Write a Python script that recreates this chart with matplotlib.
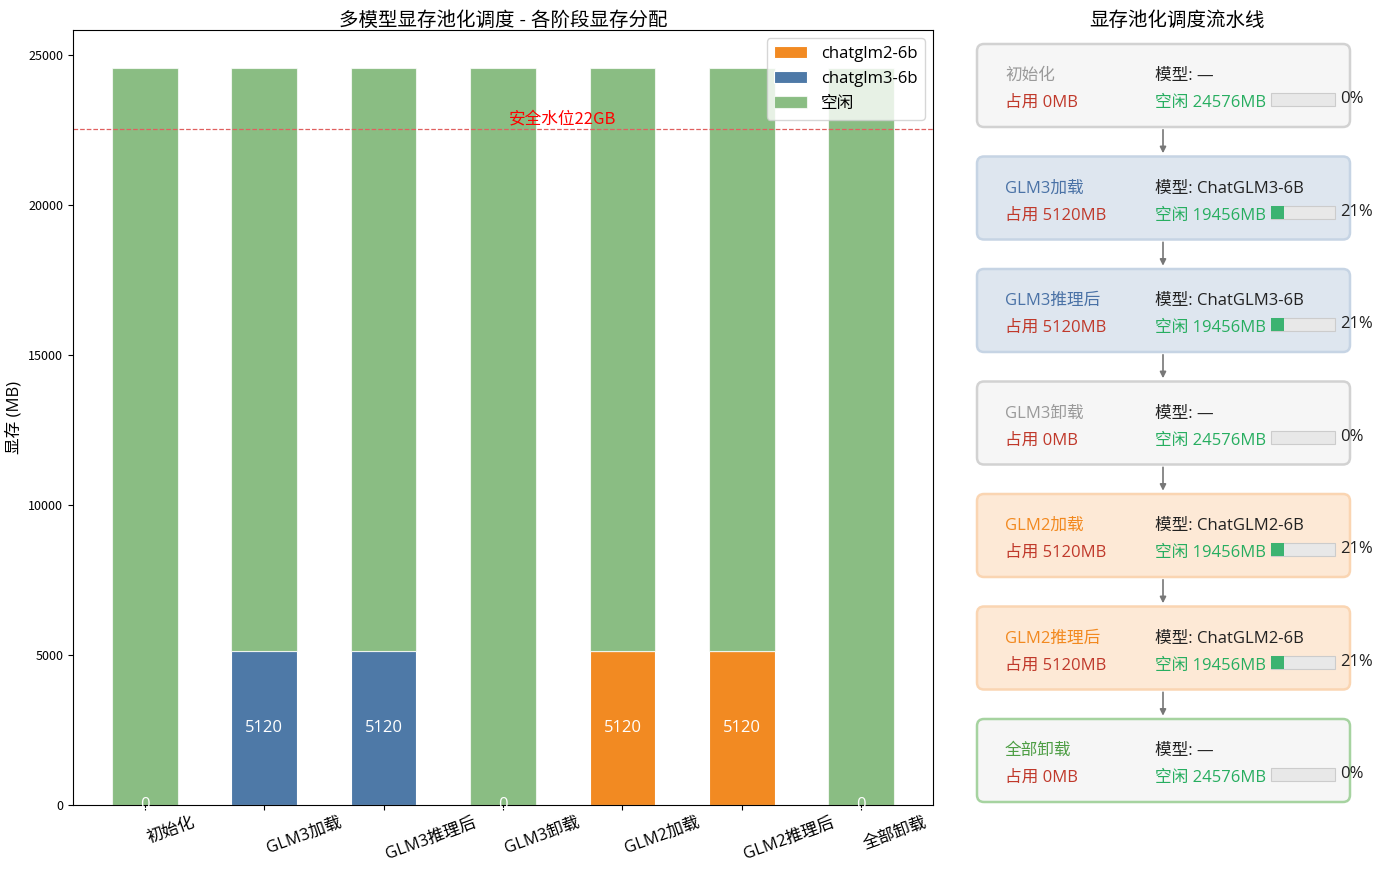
import matplotlib
matplotlib.use("Agg")
import matplotlib.pyplot as plt
from matplotlib.patches import FancyBboxPatch, Rectangle
import numpy as np

plt.rcParams['font.family'] = ['Open Sans', 'Noto Sans CJK SC', 'DejaVu Sans']
plt.rcParams['axes.unicode_minus'] = False

# ---------------- data ----------------
stages = ["初始化", "GLM3加载", "GLM3推理后", "GLM3卸载", "GLM2加载", "GLM2推理后", "全部卸载"]
glm2_used = [0, 0, 0, 0, 5120, 5120, 0]
glm3_used = [0, 5120, 5120, 0, 0, 0, 0]
free_mem = [24576, 19456, 19456, 24576, 19456, 19456, 24576]
total_mem = 24576
safe_line = 22528
glm2_labels = ["", "", "", "", "5120", "5120", "0"]
glm3_labels = ["0", "5120", "5120", "0", "", "", ""]
models = ["—", "ChatGLM3-6B", "ChatGLM3-6B", "—", "ChatGLM2-6B", "ChatGLM2-6B", "—"]
used_total = [0, 5120, 5120, 0, 5120, 5120, 0]
pct = [0, 21, 21, 0, 21, 21, 0]
series_names = ["chatglm2-6b", "chatglm3-6b", "空闲"]

# ---------------- styles ----------------
c_glm2 = "#f28a22"
c_glm3 = "#4e79a7"
c_free = "#59a14f"
kinds = ["gray", "blue", "blue", "gray", "orange", "orange", "green"]
box_fill = {"gray": "#f6f6f6", "blue": "#dee6ef", "orange": "#fde9d6", "green": "#f6f6f6"}
box_edge = {"gray": "#d2d2d2", "blue": "#c6d4e4", "orange": "#fad5b2", "green": "#a6d3a0"}
name_col = {"gray": "#9a9a9a", "blue": "#4a72a6", "orange": "#f2891f", "green": "#4e9e45"}

W, H = 1400, 871
fig = plt.figure(figsize=(W / 100, H / 100), dpi=100)

# ---------------- left chart ----------------
ax = fig.add_axes([73 / W, (H - 805) / H, 860 / W, 775 / H])
x = np.arange(len(stages))
bw = 0.55
b2 = ax.bar(x, glm2_used, bw, color=c_glm2, edgecolor="white", linewidth=0.8, label=series_names[0])
b3 = ax.bar(x, glm3_used, bw, bottom=glm2_used, color=c_glm3, edgecolor="white", linewidth=0.8,
            label=series_names[1])
bottom_free = np.array(glm2_used) + np.array(glm3_used)
bf = ax.bar(x, free_mem, bw, bottom=bottom_free, color=c_free, alpha=0.7, edgecolor="white",
            linewidth=0.8, label=series_names[2])
for cont, labs in ((b2, glm2_labels), (b3, glm3_labels)):
    texts = ax.bar_label(cont, labels=labs, label_type="center", color="white", fontsize=12)
    for t in texts:
        t.set_clip_on(True)

ax.axhline(safe_line, color="#e06060", linestyle="--", linewidth=0.9)
ax.text(3.5, safe_line + 60, "安全水位22GB", color="red", fontsize=12, ha="center", va="bottom",
        family=['Noto Sans CJK SC'])

ax.set_xlim(-0.6, 6.6)
ax.set_ylim(0, 25833)
ax.set_xticks(x)
ax.set_xticklabels(stages, rotation=20, fontsize=12, ha="left")
ax.set_yticks([0, 5000, 10000, 15000, 20000, 25000])
ax.tick_params(axis="y", labelsize=9)
for t in ax.get_yticklabels():
    t.set_family(['Noto Sans CJK SC'])
ax.set_ylabel("显存 (MB)", fontsize=12)
ax.set_title("多模型显存池化调度 - 各阶段显存分配", fontsize=14, pad=3)
ax.legend(loc="upper right", fontsize=12, handlelength=2.0, handleheight=0.7, borderpad=0.45,
          labelspacing=0.55)

# ---------------- right pipeline ----------------
ax2 = fig.add_axes([960 / W, (H - 820) / H, 435 / W, 790 / H])
ax2.set_xlim(960, 1395)
ax2.set_ylim(820, 30)
ax2.axis("off")
ax2.set_title("显存池化调度流水线", fontsize=14, pad=3)

bx0, bx1 = 977, 1350
bh = 83
step = 112.5
fs = 12
for i, st in enumerate(stages):
    top = 44 + i * step
    k = kinds[i]
    ax2.add_patch(FancyBboxPatch((bx0, top), bx1 - bx0, bh,
                                 boxstyle="round,pad=0,rounding_size=7",
                                 facecolor=box_fill[k], edgecolor=box_edge[k], linewidth=1.8))
    y1 = top + 32
    y2 = top + 59
    ax2.text(1005, y1, st, color=name_col[k], fontsize=fs, va="center", ha="left")
    ax2.text(1005, y2, f"占用 {used_total[i]}MB", color="#c0392b", fontsize=fs, va="center", ha="left")
    ax2.text(1155, y1, f"模型: {models[i]}", color="#222222", fontsize=fs, va="center", ha="left")
    ax2.text(1155, y2, f"空闲 {free_mem[i]}MB", color="#27ae60", fontsize=fs, va="center", ha="left")
    # usage bar
    px0, pw, ph = 1271, 64, 13
    py = top + 49
    ax2.add_patch(Rectangle((px0, py), pw, ph, facecolor="#e8e8e8", edgecolor="#cccccc", linewidth=0.8))
    frac = used_total[i] / total_mem
    if frac > 0:
        ax2.add_patch(Rectangle((px0, py), pw * frac, ph, facecolor="#3cb371", edgecolor="none"))
    ax2.text(1340, top + 55, f"{pct[i]}%", color="#222222", fontsize=fs, va="center", ha="left")
    if i < len(stages) - 1:
        ax2.annotate("", xy=(1163, top + step - 0.5), xytext=(1163, top + bh),
                     arrowprops=dict(arrowstyle="-|>", color="#777777", lw=1.2, mutation_scale=9))

fig.savefig("out.png", dpi=100)
